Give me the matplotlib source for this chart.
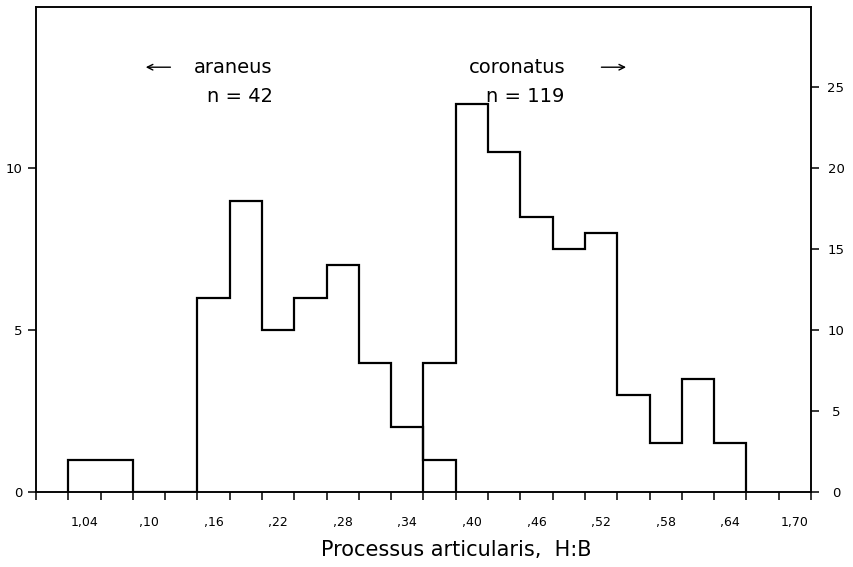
import numpy as np
import matplotlib
matplotlib.use("Agg")
import matplotlib.pyplot as plt
from matplotlib.ticker import FixedLocator, NullFormatter

# class boundaries of the H:B ratio (width 0,03)
araneus_edges = [1.025, 1.055, 1.085, 1.115, 1.145, 1.175, 1.205,
                 1.235, 1.265, 1.295, 1.325, 1.355, 1.385]
araneus_counts = [1, 1, 0, 0, 6, 9, 5, 6, 7, 4, 2, 1]

coronatus_edges = [1.355, 1.385, 1.415, 1.445, 1.475, 1.505,
                   1.535, 1.565, 1.595, 1.625, 1.655]
coronatus_counts = [8, 24, 21, 17, 15, 16, 6, 3, 7, 3]

tick_label_pos = [1.04, 1.10, 1.16, 1.22, 1.28, 1.34, 1.40, 1.46, 1.52, 1.58, 1.64, 1.70]
tick_label_txt = ["1,04", ",10", ",16", ",22", ",28", ",34", ",40", ",46", ",52", ",58", ",64", "1,70"]

fig = plt.figure(figsize=(8.54, 5.67), dpi=100)
ax = fig.add_axes([0.0422, 0.1323, 0.9074, 0.8562])
ax2 = ax.twinx()

ax.stairs(araneus_counts, araneus_edges, color="black", lw=1.6)
ax2.stairs(coronatus_counts, coronatus_edges, color="black", lw=1.6)

ax.set_xlim(0.995, 1.715)
ax.set_ylim(0, 15)
ax2.set_ylim(0, 30)

# bin edges as tick marks, labels between them
edge_ticks = np.round(np.arange(0.995, 1.716, 0.03), 3)
ax.xaxis.set_major_locator(FixedLocator(edge_ticks))
ax.xaxis.set_major_formatter(NullFormatter())
ax.set_xticks(tick_label_pos, tick_label_txt, minor=True)
ax.tick_params(axis="x", which="major", direction="out", length=6, width=1.1)
ax.tick_params(axis="x", which="minor", length=0, pad=17, labelsize=9)

ax.set_yticks([0, 5, 10])
ax.tick_params(axis="y", direction="out", length=6, width=1.1, labelsize=9.5, pad=4)
ax2.set_yticks([0, 5, 10, 15, 20, 25])
ax2.tick_params(axis="y", direction="out", length=6, width=1.1, labelsize=9.5, pad=12)
for lab in ax2.get_yticklabels():
    lab.set_horizontalalignment("center")

for a in (ax, ax2):
    for sp in a.spines.values():
        sp.set_linewidth(1.1)

# species annotations
ax.text(0.254, 0.875, "araneus", transform=ax.transAxes, ha="center", va="center",
        fontsize=14)
ax.text(0.263, 0.814, "n = 42", transform=ax.transAxes, ha="center", va="center",
        fontsize=14)
ax.text(0.621, 0.875, "coronatus", transform=ax.transAxes, ha="center", va="center",
        fontsize=14)
ax.text(0.631, 0.814, "n = 119", transform=ax.transAxes, ha="center", va="center",
        fontsize=14)
ax.annotate("", xy=(0.138, 0.875), xytext=(0.177, 0.875), xycoords="axes fraction",
            arrowprops=dict(arrowstyle="->", lw=1.0, color="black"))
ax.annotate("", xy=(0.765, 0.875), xytext=(0.726, 0.875), xycoords="axes fraction",
            arrowprops=dict(arrowstyle="->", lw=1.0, color="black"))

fig.text(0.534, 0.030, "Processus articularis,  H:B", ha="center", va="center",
         fontsize=15)

fig.savefig("out.png", dpi=100)
